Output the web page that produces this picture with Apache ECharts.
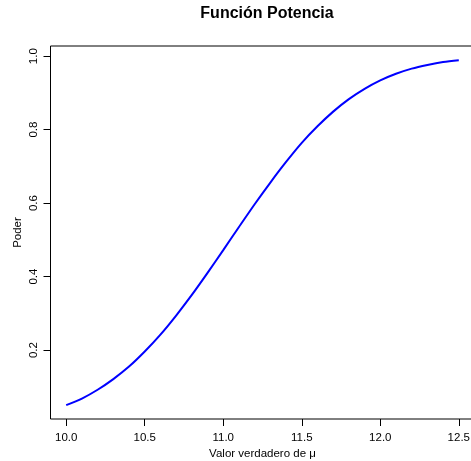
<!DOCTYPE html>
<html>
<head>
<meta charset="utf-8">
<script src="https://cdn.jsdelivr.net/npm/echarts@6/dist/echarts.min.js"></script>
<style>html,body{margin:0;padding:0;background:#fff}#c{width:471px;height:461px}</style>
</head>
<body>
<div id="c"></div>
<script>
const mu = [10.0,10.1,10.2,10.3,10.4,10.5,10.6,10.7,10.8,10.9,11.0,11.1,11.2,11.3,11.4,11.5,11.6,11.7,11.8,11.9,12.0,12.1,12.2,12.3,12.4,12.5];
const power = [0.050,0.068,0.092,0.121,0.155,0.196,0.242,0.294,0.350,0.410,0.472,0.535,0.597,0.656,0.712,0.764,0.809,0.849,0.883,0.911,0.934,0.952,0.966,0.976,0.984,0.989];
const xTicks = [10.0,10.5,11.0,11.5,12.0,12.5];
const yTicks = [0.2,0.4,0.6,0.8,1.0];
const titleText = 'Función Potencia';
const xName = 'Valor verdadero de μ';
const yName = 'Poder';

const FONT = 'Liberation Sans, Arial, Helvetica, sans-serif';
const chart = echarts.init(document.getElementById('c'), null, {renderer:'canvas'});
chart.setOption({
  animation:false,
  backgroundColor:'#fff',
  title:{text:titleText,left:262,textAlign:'center',top:1,
    textStyle:{fontFamily:FONT,fontSize:16,fontWeight:'bold',color:'#000'}},
  grid:{left:50.5,top:46,width:424,height:373,show:true,borderColor:'#000',borderWidth:1,
    backgroundColor:'transparent',outerBoundsMode:'none',containLabel:false},
  xAxis:{type:'value',min:9.9,max:12.6,
    name:xName,nameLocation:'middle',nameGap:29,nameMoveOverlap:false,
    nameTextStyle:{fontFamily:FONT,fontSize:11.5,color:'#000'},
    axisLine:{show:false},splitLine:{show:false},
    axisTick:{show:true,length:7,customValues:xTicks,lineStyle:{color:'#000'}},
    axisLabel:{customValues:xTicks,margin:13,fontFamily:FONT,fontSize:11.5,color:'#000',
      formatter:v=>v.toFixed(1)}},
  yAxis:{type:'value',min:0.0124,max:1.0276,
    name:yName,nameLocation:'middle',nameGap:27,nameRotate:90,nameMoveOverlap:false,
    nameTextStyle:{fontFamily:FONT,fontSize:11.5,color:'#000'},
    axisLine:{show:false},splitLine:{show:false},
    axisTick:{show:true,length:7,customValues:yTicks,lineStyle:{color:'#000'}},
    axisLabel:{customValues:yTicks,rotate:90,margin:11,fontFamily:FONT,fontSize:11.5,color:'#000',
      formatter:v=>v.toFixed(1)}},
  series:[{type:'line',data:mu.map((m,i)=>[m,power[i]]),smooth:0.3,showSymbol:false,
    lineStyle:{color:'#0000FF',width:2}}]
});
</script>
</body>
</html>
